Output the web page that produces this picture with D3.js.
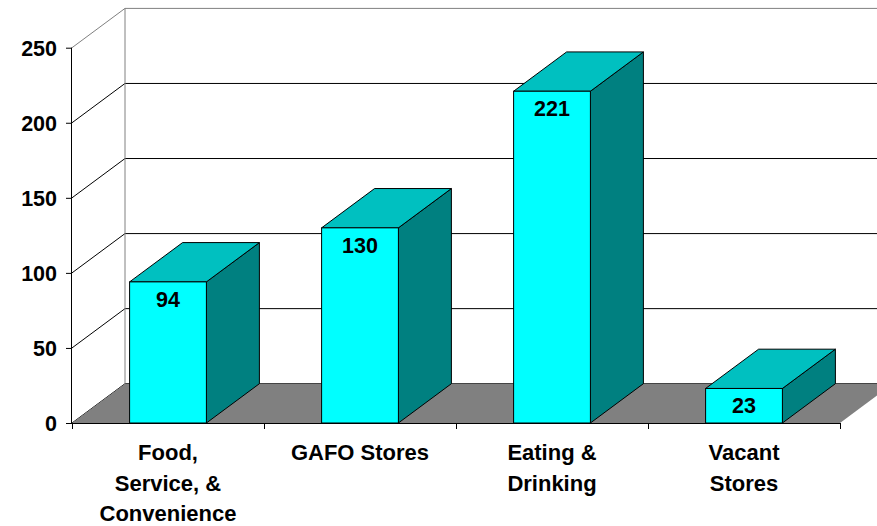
<!DOCTYPE html>
<html>
<head>
<meta charset="utf-8">
<script src="https://cdn.jsdelivr.net/npm/d3@7"></script>
<style>
  html, body { margin: 0; padding: 0; background: #fff; }
  svg { display: block; }
  text { font-family: "Liberation Sans", Arial, sans-serif; font-weight: bold; fill: #000; }
</style>
</head>
<body>
<svg id="chart" width="877" height="526"></svg>
<script>
// Store counts by category
const categories = [
  ["Food,", "Service, &", "Convenience"],
  ["GAFO Stores"],
  ["Eating &", "Drinking"],
  ["Vacant", "Stores"]
];
const values = [94, 130, 221, 23];
const yTicks = [0, 50, 100, 150, 200, 250];

const plotLeft = 72, plotRight = 840, plotBase = 423, plotTop = 47.7;
const depthX = 53, depthY = -39.3;   // oblique projection of the chart depth

const svg = d3.select("#chart");

const keys = categories.map((c, i) => i);
const x = d3.scaleBand().domain(keys).range([plotLeft, plotRight]).paddingInner(0.6).paddingOuter(0.3);
const y = d3.scaleLinear().domain([0, 250]).range([plotBase, plotTop]);
const edge = d3.scaleLinear().domain([0, categories.length]).range([plotLeft, plotRight]);

const pts = p => p.map(q => q.join(",")).join(" ");

// Walls: gridlines on the side wall and the back wall
const walls = svg.append("g");
yTicks.forEach(t => {
  const yy = y(t);
  const col = t === 250 ? "#808080" : "#000";
  walls.append("polyline")
    .attr("points", pts([[plotLeft, yy], [plotLeft + depthX, yy + depthY], [plotRight + depthX, yy + depthY]]))
    .attr("fill", "none").attr("stroke", col).attr("stroke-width", 1);
});
walls.append("line")
  .attr("x1", plotLeft + depthX).attr("x2", plotLeft + depthX)
  .attr("y1", y(250) + depthY).attr("y2", plotBase + depthY)
  .attr("stroke", "#808080").attr("stroke-width", 1);

// Floor
svg.append("polygon")
  .attr("points", pts([[plotLeft, plotBase], [plotRight, plotBase], [plotRight + depthX, plotBase + depthY], [plotLeft + depthX, plotBase + depthY]]))
  .attr("fill", "#808080");

// 3D columns
const bars = svg.append("g").selectAll("g").data(values).join("g");
bars.each(function (v, i) {
  const g = d3.select(this);
  const x0 = x(i), x1 = x(i) + x.bandwidth();
  const yt = y(v);
  g.append("polygon") // side
    .attr("points", pts([[x1, plotBase], [x1 + depthX, plotBase + depthY], [x1 + depthX, yt + depthY], [x1, yt]]))
    .attr("fill", "#008080").attr("stroke", "#000").attr("stroke-width", 1).attr("stroke-linejoin", "round");
  g.append("polygon") // top
    .attr("points", pts([[x0, yt], [x1, yt], [x1 + depthX, yt + depthY], [x0 + depthX, yt + depthY]]))
    .attr("fill", "#00C0C0").attr("stroke", "#000").attr("stroke-width", 1).attr("stroke-linejoin", "round");
  g.append("rect") // front
    .attr("x", x0).attr("y", yt).attr("width", x.bandwidth()).attr("height", plotBase - yt)
    .attr("fill", "#00FFFF").attr("stroke", "#000").attr("stroke-width", 1);
  g.append("text")
    .attr("x", x0 + x.bandwidth() / 2).attr("y", yt + 25)
    .attr("text-anchor", "middle").attr("font-size", 21.5)
    .text(v);
});

// Value axis
const yAxis = svg.append("g").attr("transform", `translate(${plotLeft},0)`)
  .call(d3.axisLeft(y).tickValues(yTicks).tickSize(6).tickPadding(9).tickFormat(d3.format("d")));
yAxis.attr("font-family", null).attr("font-size", null);
yAxis.select(".domain").attr("stroke", "#000").attr("d", `M-0.5,${plotTop}V${plotBase}`);
yAxis.selectAll(".tick line").attr("stroke", "#000");
yAxis.selectAll("text").attr("font-size", 21.5).attr("dy", "0.36em");

// Category axis
const xAxis = svg.append("g").attr("transform", `translate(0,${plotBase})`)
  .call(d3.axisBottom(edge).tickValues(d3.range(categories.length + 1)).tickSize(6).tickFormat(""));
xAxis.select(".domain").attr("stroke", "#000").attr("d", `M${plotLeft - 6},0.5H${plotRight}`);
xAxis.selectAll(".tick line").attr("stroke", "#000");

const labels = svg.append("g").selectAll("text").data(categories).join("text")
  .attr("x", (d, i) => x(i) + x.bandwidth() / 2)
  .attr("y", 460)
  .attr("text-anchor", "middle").attr("font-size", 22);
labels.selectAll("tspan").data(d => d).join("tspan")
  .attr("x", function () { return this.parentNode.getAttribute("x"); })
  .attr("dy", (d, j) => j === 0 ? 0 : 30.5)
  .text(d => d);
</script>
</body>
</html>
